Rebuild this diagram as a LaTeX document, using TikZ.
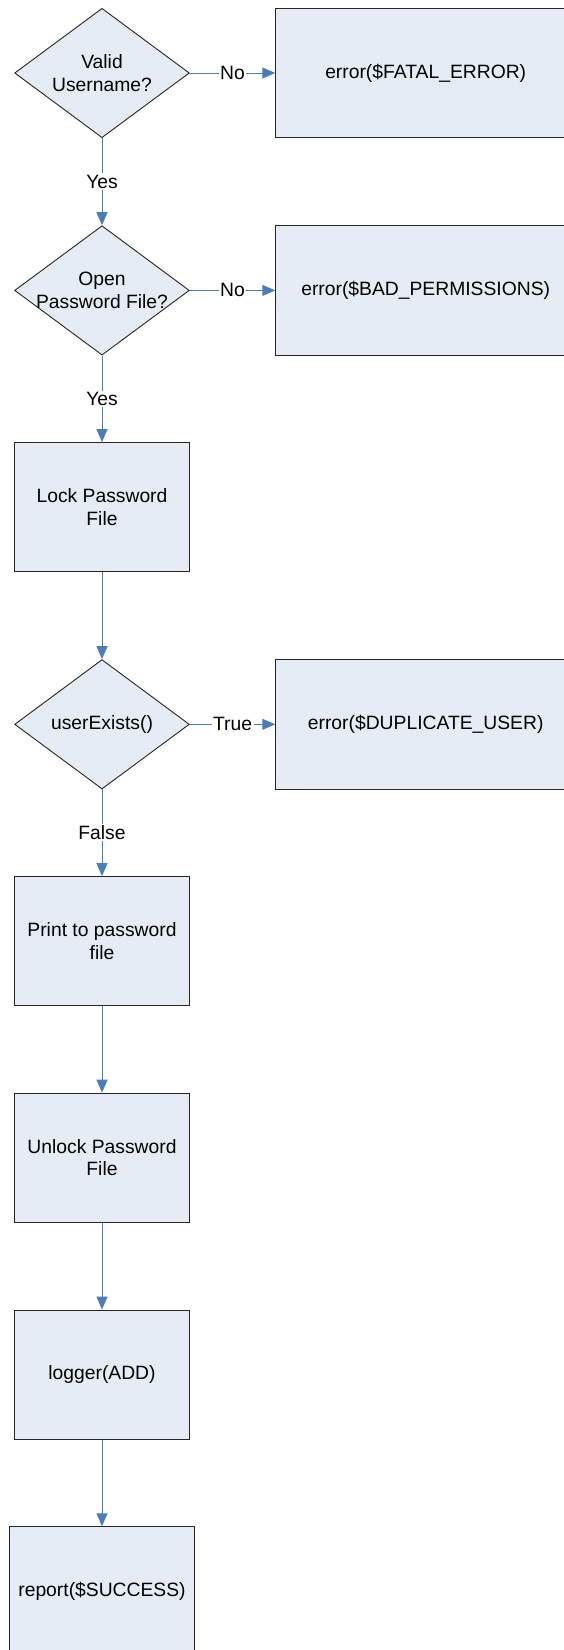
\documentclass[tikz,border=0pt]{standalone}
\usepackage{fontspec}
\setmainfont{Liberation Sans}
\usetikzlibrary{shapes.geometric,arrows.meta}
\definecolor{boxfill}{RGB}{230,236,246}
\definecolor{linkblue}{RGB}{74,126,187}
\begin{document}
\begin{tikzpicture}[x=1pt,y=-1pt,
    every node/.style={font=\fontsize{19.3}{22.5}\selectfont,align=center},
    decision/.style={diamond,draw=black!85,fill=boxfill,line width=0.9pt,inner sep=0pt,
      aspect=1.35,minimum width=174.7pt,minimum height=129.4pt},
    process/.style={rectangle,draw=black!85,fill=boxfill,line width=0.9pt,
      minimum width=174.7pt,minimum height=129.4pt},
    failbox/.style={process,minimum width=300pt},
    lbl/.style={fill=white,inner sep=1.5pt}]
      \useasboundingbox (0,0) rectangle (564,1650);
      \draw
        (102,73) node[decision] (valid){Valid\\Username?}
        (425.7,73) node[failbox] (fatal){error(\$FATAL\_ERROR)}
        (102,290.4) node[decision] (open){Open\\\makebox[110pt]{Password File?}}
        (425.7,290.4) node[failbox] (perm){error(\$BAD\_PERMISSIONS)}
        (102,507.2) node[process] (lock){Lock Password\\File}
        (102,724.3) node[decision] (exists){userExists()}
        (425.7,724.3) node[failbox] (dup){error(\$DUPLICATE\_USER)}
        (102,941.2) node[process] (print){Print to password\\file}
        (102,1157.8) node[process] (unlock){Unlock Password\\File}
        (102,1374.7) node[process] (logger){logger(ADD)}
        (102,1591.7) node[process,minimum width=185pt,minimum height=130pt] (report){report(\$SUCCESS)};
      \begin{scope}[draw=linkblue,line width=1pt,-{Triangle[length=13pt,width=11pt]}]
        \draw (valid) to node[lbl]{No} (fatal);
        \draw (valid) to node[lbl]{Yes} (open);
        \draw (open) to node[lbl]{No} (perm);
        \draw (open) to node[lbl]{Yes} (lock);
        \draw (lock) to (exists);
        \draw (exists) to node[lbl]{True} (dup);
        \draw (exists) to node[lbl]{False} (print);
        \draw (print) to (unlock);
        \draw (unlock) to (logger);
        \draw (logger) to (report);
      \end{scope}
    \end{tikzpicture}
\end{document}
